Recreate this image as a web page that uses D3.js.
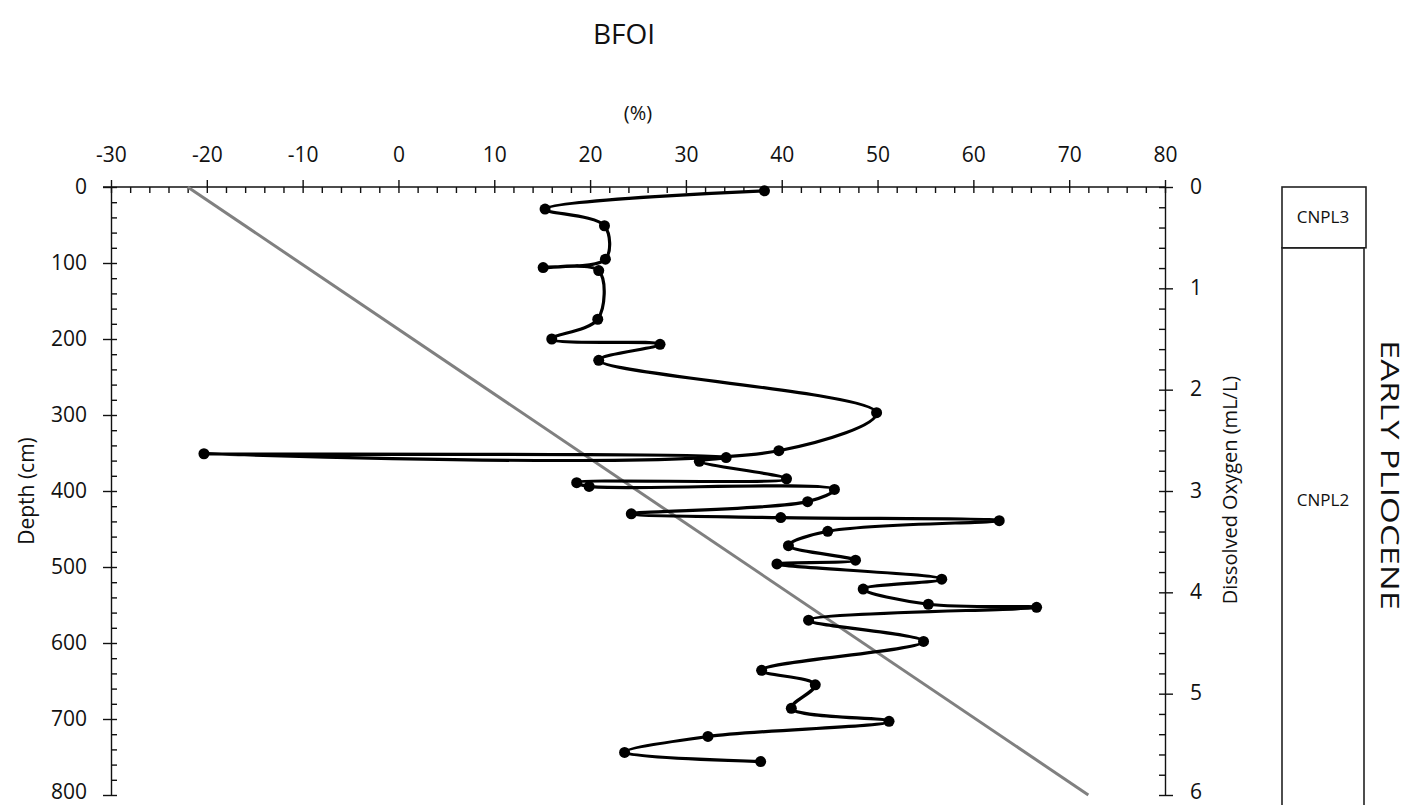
<!DOCTYPE html>
<html>
<head>
<meta charset="utf-8">
<script src="https://cdn.jsdelivr.net/npm/d3@7"></script>
<style>
  body { margin: 0; background: #fff; }
  text { font-family: "Open Sans", "Noto Sans", sans-serif; fill: #111; }
  .axis path, .axis line { stroke: #111; stroke-width: 1.4; }
</style>
</head>
<body>
<div id="viz-container"></div>
<script>
// depth below top (cm) and BFOI value (%)
var depths = [5, 29, 51, 95, 106, 110, 174, 200, 207, 228, 297, 347, 351, 356, 361,
              384, 389, 394, 398, 414, 430, 435, 439, 453, 472, 491, 496, 516, 529,
              549, 553, 570, 598, 636, 655, 686, 703, 723, 744, 756];
var bfoi = [38.2, 15.3, 21.5, 21.6, 15.1, 20.9, 20.8, 16.0, 27.3, 20.9, 49.9, 39.7, -20.3, 34.2, 31.4,
            40.5, 18.6, 19.9, 45.5, 42.7, 24.3, 39.9, 62.7, 44.8, 40.7, 47.7, 39.5, 56.7, 48.5,
            55.3, 66.6, 42.8, 54.8, 37.9, 43.5, 41.0, 51.2, 32.3, 23.6, 37.8];

// linear trend (end points)
var trendDepth = [0, 800];
var trendBfoi = [-22, 72];

var bfoiTicks = [-30, -20, -10, 0, 10, 20, 30, 40, 50, 60, 70, 80];
var depthTicks = [0, 100, 200, 300, 400, 500, 600, 700, 800];
var oxygenTicks = [0, 1, 2, 3, 4, 5, 6];

// biozones on the right
var zoneNames = ["CNPL3", "CNPL2"];
var zoneTop = [0, 80];
var zoneBottom = [80, 830];

var width = 1411, height = 805;

var svg = d3.select("#viz-container")
            .append("svg")
            .attr("width", width)
            .attr("height", height);

var x = d3.scaleLinear().domain([-30, 80]).range([111, 1165]);
var y = d3.scaleLinear().domain([0, 800]).range([187, 795]);
var oxy = d3.scaleLinear().domain([0, 6]).range([187, 795]);

var plain = function(d){ return String(d); };

// bottom labels sit on the page edge, nudge them up a bit
function fixLabels(g, last){
    g.selectAll("text")
     .attr("font-size", 21)
     .attr("dy", function(d){ return d === last ? "0.16em" : "0.3em"; });
}

// ---- axes ----
// top
svg.append("g")
   .attr("class", "axis")
   .attr("transform", "translate(0," + y(0) + ")")
   .call(d3.axisTop(x).tickValues(bfoiTicks).tickSize(7).tickPadding(18)
           .tickSizeOuter(0).tickFormat(plain))
   .call(function(g){
       g.selectAll("text").attr("font-size", 21);
       g.select(".domain").attr("d", "M103,0H1165");
   });
svg.append("g")
   .attr("class", "axis")
   .attr("transform", "translate(0," + y(0) + ")")
   .call(d3.axisBottom(x).tickValues(d3.range(-30, 81, 2)).tickSize(6).tickFormat(""))
   .select(".domain").remove();

// left
svg.append("g")
   .attr("class", "axis")
   .attr("transform", "translate(" + x(-30) + ",0)")
   .call(d3.axisLeft(y).tickValues(depthTicks).tickSize(8).tickPadding(16)
           .tickSizeOuter(0).tickFormat(plain))
   .call(fixLabels, 800);
svg.append("g")
   .attr("class", "axis")
   .attr("transform", "translate(" + x(-30) + ",0)")
   .call(d3.axisRight(y).tickValues(d3.range(0, 801, 20)).tickSize(6).tickFormat(""))
   .select(".domain").remove();

// right (dissolved oxygen)
svg.append("g")
   .attr("class", "axis")
   .attr("transform", "translate(" + x(80) + ",0)")
   .call(d3.axisRight(oxy).tickValues(oxygenTicks).tickSize(8).tickPadding(17)
           .tickSizeOuter(0).tickFormat(plain))
   .call(fixLabels, 6);
svg.append("g")
   .attr("class", "axis")
   .attr("transform", "translate(" + x(80) + ",0)")
   .call(d3.axisLeft(oxy).tickValues(d3.range(0, 6.01, 0.2)).tickSize(6).tickFormat(""))
   .select(".domain").remove();

// ---- titles ----
svg.append("text")
   .attr("x", 624).attr("y", 44)
   .attr("text-anchor", "middle")
   .attr("font-size", 28)
   .text("BFOI");

svg.append("text")
   .attr("x", 638).attr("y", 120)
   .attr("text-anchor", "middle")
   .attr("font-size", 20)
   .text("(%)");

svg.append("text")
   .attr("transform", "translate(34," + 491 + ") rotate(-90)")
   .attr("text-anchor", "middle")
   .attr("font-size", 21)
   .text("Depth (cm)");

svg.append("text")
   .attr("transform", "translate(1237," + 490 + ") rotate(-90)")
   .attr("text-anchor", "middle")
   .attr("font-size", 20)
   .text("Dissolved Oxygen (mL/L)");

// ---- trend line ----
var trend = trendDepth.map(function(d, i){ return {depth: d, v: trendBfoi[i]}; });
svg.append("path")
   .datum(trend)
   .attr("fill", "none")
   .attr("stroke", "#808080")
   .attr("stroke-width", 3)
   .attr("d", d3.line()
      .x(function(d){ return x(d.v); })
      .y(function(d){ return y(d.depth); }));

// ---- BFOI series ----
var series = depths.map(function(d, i){ return {depth: d, v: bfoi[i]}; });

svg.append("path")
   .datum(series)
   .attr("fill", "none")
   .attr("stroke", "#000")
   .attr("stroke-width", 3.2)
   .attr("stroke-linejoin", "round")
   .attr("d", d3.line()
      .curve(d3.curveCatmullRom.alpha(0.5))
      .x(function(d){ return x(d.v); })
      .y(function(d){ return y(d.depth); }));

svg.append("g")
   .selectAll("circle")
   .data(series)
   .enter().append("circle")
   .attr("cx", function(d){ return x(d.v); })
   .attr("cy", function(d){ return y(d.depth); })
   .attr("r", 5.5)
   .attr("fill", "#000");

// ---- biozone column ----
var zones = zoneNames.map(function(n, i){ return {name: n, top: zoneTop[i], bottom: zoneBottom[i]}; });
var zx = [1282, 1282], zw = [84, 82];

svg.append("g")
   .selectAll("rect")
   .data(zones)
   .enter().append("rect")
   .attr("x", function(d, i){ return zx[i]; })
   .attr("y", function(d){ return y(d.top); })
   .attr("width", function(d, i){ return zw[i]; })
   .attr("height", function(d){ return y(d.bottom) - y(d.top); })
   .attr("fill", "none")
   .attr("stroke", "#222")
   .attr("stroke-width", 1.6);

svg.append("text")
   .attr("x", 1323).attr("y", y(40) + 6)
   .attr("text-anchor", "middle")
   .attr("font-size", 17)
   .text(zoneNames[0]);

svg.append("text")
   .attr("x", 1323).attr("y", 506)
   .attr("text-anchor", "middle")
   .attr("font-size", 17)
   .text(zoneNames[1]);

svg.append("text")
   .attr("transform", "translate(1381," + 475 + ") rotate(90)")
   .attr("text-anchor", "middle")
   .attr("font-size", 26)
   .attr("textLength", 270)
   .attr("lengthAdjust", "spacingAndGlyphs")
   .text("EARLY PLIOCENE");
</script>
</body>
</html>
